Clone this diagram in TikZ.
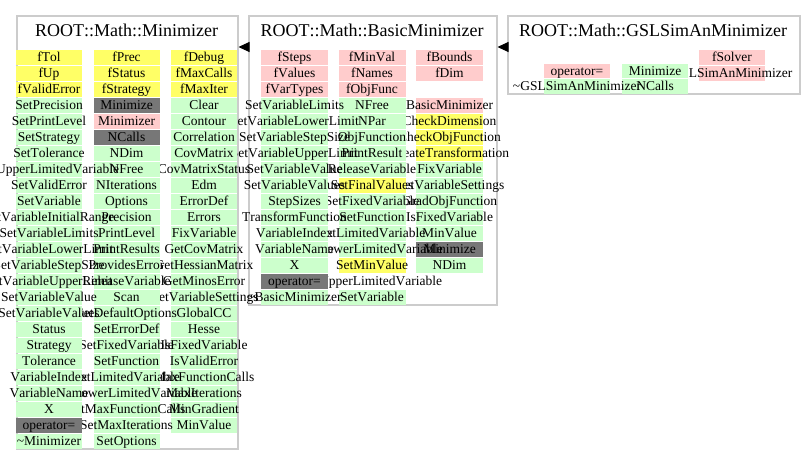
\documentclass[tikz,border=0pt]{standalone}
\usepackage{fontspec}
\setmainfont{Liberation Serif}[Kerning=Off]
\usetikzlibrary{arrows.meta}

\definecolor{yel}{HTML}{FFFF66}
\definecolor{grn}{HTML}{CCFFCC}
\definecolor{pnk}{HTML}{FFCCCC}
\definecolor{gry}{HTML}{777777}
\definecolor{boxgray}{HTML}{CCCCCC}

\newcommand{\cellfont}{\fontsize{13.5}{15}\selectfont}
\newcommand{\classfont}{\fontsize{18}{21}\selectfont}

\tikzset{
  classbox/.style={draw=boxgray, line width=1.5pt, anchor=north west, inner sep=0pt},
  classname/.style={anchor=base, inner sep=0pt, font=\classfont},
  cell/.style={anchor=north, inner sep=0pt, text height=11.5pt, text depth=3pt, font=\cellfont},
  inherit/.style={line width=1pt, -{Triangle[length=11pt,width=10pt]}}
}

\begin{document}
\begin{tikzpicture}[x=1pt,y=-1pt]
  \useasboundingbox (0,0) rectangle (807,464);

  % class frames
  \node[classbox, minimum width=221pt, minimum height=433pt] (mini) at (16,15) {};
  \node[classbox, minimum width=248pt, minimum height=289pt] (basic) at (248,15) {};
  \node[classbox, minimum width=292pt, minimum height=78pt] (gsl) at (507,15) {};

  \node[classname] (mini-name) at (126.5,36) {ROOT::Math::Minimizer};
  \node[classname] (basic-name) at (372,36) {ROOT::Math::BasicMinimizer};
  \node[classname] (gsl-name) at (653,36) {ROOT::Math::GSLSimAnMinimizer};

  % inheritance
  \draw[inherit] (basic.west |- 0,47) -- (mini.east |- 0,47);
  \draw[inherit] (gsl.west |- 0,47) -- (basic.east |- 0,47);

  % ROOT::Math::GSLSimAnMinimizer (columns drawn right to left)
  \foreach \txt/\kind [count=\i] in {fSolver/pnk, GSLSimAnMinimizer/pnk}
    \node[cell, fill=\kind] (g3-\i) at (732,{34+16*\i}) {\makebox[66pt]{\txt}};
  \foreach \txt/\kind [count=\i] in {Minimize/grn, NCalls/grn}
    \node[cell, fill=\kind] (g2-\i) at (655,{48+15.5*\i}) {\makebox[66pt]{\txt}};
  \foreach \txt/\kind [count=\i] in {operator=/pnk, \textasciitilde GSLSimAnMinimizer/grn}
    \node[cell, fill=\kind] (g1-\i) at (577,{48+15.5*\i}) {\makebox[66pt]{\txt}};

  % ROOT::Math::BasicMinimizer
  \foreach \txt/\kind [count=\i] in {fBounds/pnk, fDim/pnk}
    \node[cell, fill=\kind] (b3-\i) at (449.5,{34+16*\i}) {\makebox[67pt]{\txt}};
  \foreach \txt/\kind [count=\i from 4] in {BasicMinimizer/pnk, CheckDimension/yel,
      CheckObjFunction/yel, CreateTransformation/yel, FixVariable/grn,
      GetVariableSettings/grn, GradObjFunction/grn, IsFixedVariable/grn,
      MinValue/grn, Minimize/gry, NDim/grn}
    \node[cell, fill=\kind] (b3-\i) at (449.5,{34+16*\i}) {\makebox[67pt]{\txt}};
  \foreach \txt/\kind [count=\i] in {fMinVal/pnk, fNames/pnk, fObjFunc/pnk,
      NFree/grn, NPar/grn, ObjFunction/grn, PrintResult/grn, ReleaseVariable/grn,
      SetFinalValues/yel, SetFixedVariable/grn, SetFunction/grn,
      SetLimitedVariable/grn, SetLowerLimitedVariable/grn, SetMinValue/yel,
      SetUpperLimitedVariable/none, SetVariable/grn}
    \node[cell, fill=\kind] (b2-\i) at (372,{34+16*\i}) {\makebox[67pt]{\txt}};
  \foreach \txt/\kind [count=\i] in {fSteps/pnk, fValues/pnk, fVarTypes/pnk,
      SetVariableLimits/grn, SetVariableLowerLimit/grn, SetVariableStepSize/grn,
      SetVariableUpperLimit/grn, SetVariableValue/grn, SetVariableValues/grn,
      StepSizes/grn, TransformFunction/grn, VariableIndex/grn, VariableName/grn,
      X/grn, operator=/gry, \textasciitilde BasicMinimizer/grn}
    \node[cell, fill=\kind] (b1-\i) at (294.5,{34+16*\i}) {\makebox[67pt]{\txt}};

  % ROOT::Math::Minimizer
  \foreach \txt/\kind [count=\i] in {fDebug/yel, fMaxCalls/yel, fMaxIter/yel,
      Clear/grn, Contour/grn, Correlation/grn, CovMatrix/grn, CovMatrixStatus/grn,
      Edm/grn, ErrorDef/grn, Errors/grn, FixVariable/grn, GetCovMatrix/grn,
      GetHessianMatrix/grn, GetMinosError/grn, GetVariableSettings/grn,
      GlobalCC/grn, Hesse/grn, IsFixedVariable/grn, IsValidError/grn,
      MaxFunctionCalls/grn, MaxIterations/grn, MinGradient/grn, MinValue/grn}
    \node[cell, fill=\kind] (m3-\i) at (204,{34+16*\i}) {\makebox[66pt]{\txt}};
  \foreach \txt/\kind [count=\i] in {fPrec/yel, fStatus/yel, fStrategy/yel,
      Minimize/gry, Minimizer/pnk, NCalls/gry, NDim/grn, NFree/grn,
      NIterations/grn, Options/grn, Precision/grn, PrintLevel/grn,
      PrintResults/grn, ProvidesError/grn, ReleaseVariable/grn, Scan/grn,
      SetDefaultOptions/grn, SetErrorDef/grn, SetFixedVariable/grn,
      SetFunction/grn, SetLimitedVariable/grn, SetLowerLimitedVariable/grn,
      SetMaxFunctionCalls/grn, SetMaxIterations/grn, SetOptions/grn}
    \node[cell, fill=\kind] (m2-\i) at (126.5,{34+16*\i}) {\makebox[66pt]{\txt}};
  \foreach \txt/\kind [count=\i] in {fTol/yel, fUp/yel, fValidError/yel,
      SetPrecision/grn, SetPrintLevel/grn, SetStrategy/grn, SetTolerance/grn,
      SetUpperLimitedVariable/grn, SetValidError/grn, SetVariable/grn,
      SetVariableInitialRange/grn, SetVariableLimits/grn,
      SetVariableLowerLimit/grn, SetVariableStepSize/grn,
      SetVariableUpperLimit/grn, SetVariableValue/grn, SetVariableValues/grn,
      Status/grn, Strategy/grn, Tolerance/grn, VariableIndex/grn,
      VariableName/grn, X/grn, operator=/gry, \textasciitilde Minimizer/grn}
    \node[cell, fill=\kind] (m1-\i) at (49,{34+16*\i}) {\makebox[66pt]{\txt}};
\end{tikzpicture}
\end{document}
